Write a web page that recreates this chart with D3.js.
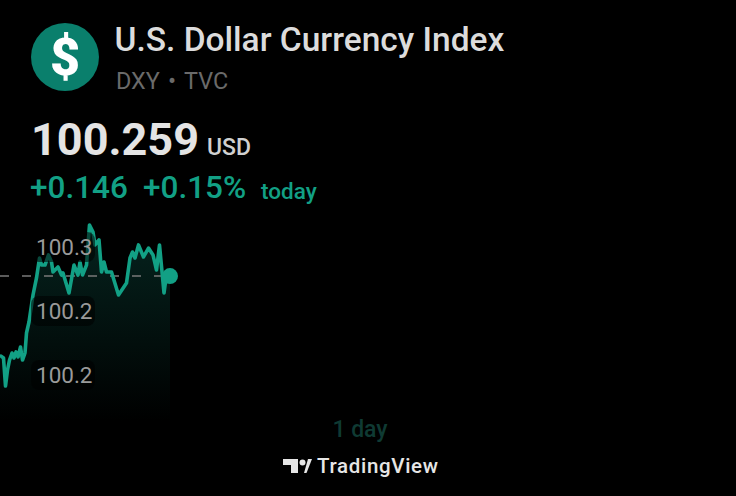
<!DOCTYPE html>
<html><head><meta charset="utf-8">
<script src="https://cdn.jsdelivr.net/npm/d3@7"></script>
<style>html,body{margin:0;background:#000}svg{display:block}text{font-family:Roboto,sans-serif}</style>
</head><body><script>
const minutes=[0,2,7,11,15,19,24,28,32,36,41,45,50,53,58,66,73,79,83,90,97,103,106,116,123,126,138,148,156,160,165,173,179,186,190,198,203,208,213,223,237,253,260,265,270,277,287,297,306,313,319,328,332,340];
const prices=[100.2141,100.2148,100.2133,100.1914,100.2039,100.2117,100.2172,100.2133,100.2180,100.2141,100.2219,100.2117,100.2172,100.2328,100.2414,100.2625,100.2758,100.2914,100.2859,100.2859,100.2938,100.2883,100.2805,100.2844,100.2781,100.2797,100.2641,100.2859,100.2781,100.2883,100.2781,100.2859,100.3172,100.3117,100.3016,100.3055,100.2805,100.2883,100.2805,100.2805,100.2625,100.2719,100.2914,100.2961,100.2914,100.3016,100.2922,100.2992,100.2938,100.2820,100.3016,100.2641,100.2758,100.2773];
const tickValues=[100.3,100.25,100.2];
const tickLabels=["100.3","100.2","100.2"];
const refPrice=100.2773;
const sessionMinutes=1472;

const W=736,H=496;
const svg=d3.select("body").append("svg").attr("width",W).attr("height",H);
const x=d3.scaleLinear().domain([0,sessionMinutes]).range([0,W]);
const y=d3.scaleLinear().domain([100.3,100.2]).range([247,375]);
const base=421;
const pts=minutes.map((m,i)=>[m,prices[i]]);

const grad=svg.append("defs").append("linearGradient").attr("id","g").attr("gradientUnits","userSpaceOnUse").attr("x1",0).attr("x2",0).attr("y1",225).attr("y2",base);
grad.append("stop").attr("offset",0).attr("stop-color","#05241f");
grad.append("stop").attr("offset",1).attr("stop-color","#000");

svg.append("path").datum(pts).attr("fill","url(#g)")
 .attr("d",d3.area().x(d=>x(d[0])).y0(base).y1(d=>y(d[1])));
svg.append("line").attr("x1",0).attr("x2",x(d3.max(minutes))).attr("y1",y(refPrice)).attr("y2",y(refPrice))
 .attr("stroke","#7a7a7a").attr("stroke-width",1.5).attr("stroke-dasharray","9 13");
svg.append("path").datum(pts).attr("fill","none").attr("stroke","#12a085").attr("stroke-width",3.6)
 .attr("stroke-linejoin","round").attr("d",d3.line().x(d=>x(d[0])).y(d=>y(d[1])));
const last=pts[pts.length-1];
svg.append("circle").attr("cx",x(last[0])).attr("cy",y(last[1])).attr("r",8).attr("fill","#12a085");

const tick=svg.selectAll("g.t").data(tickValues).join("g").attr("class","t")
 .attr("transform",d=>`translate(0,${y(d)})`);
tick.append("rect").attr("x",31).attr("y",-15).attr("width",64).attr("height",30).attr("rx",8).attr("fill","#000").attr("fill-opacity",.55);
tick.append("text").attr("x",36).attr("y",8).attr("font-size",22.5).attr("fill","#9a9a9a").text((d,i)=>tickLabels[i]);

svg.append("circle").attr("cx",65).attr("cy",57).attr("r",34).attr("fill","#0a7f6c");
svg.append("text").attr("x",65).attr("y",75).attr("text-anchor","middle").attr("font-size",52).attr("font-weight",900).attr("fill","#fff").text("$");
svg.append("text").attr("x",114.5).attr("y",51).attr("font-size",33.5).attr("font-weight",500).attr("fill","#dcdcdc").text("U.S. Dollar Currency Index");
svg.append("text").attr("x",116).attr("y",89).attr("font-size",23.4).attr("fill","#6a6a6a").text("DXY");
svg.append("text").attr("x",168).attr("y",89).attr("font-size",24).attr("fill","#6a6a6a").text("•");
svg.append("text").attr("x",184).attr("y",89).attr("font-size",23.4).attr("fill","#6a6a6a").text("TVC");
svg.append("text").attr("x",31).attr("y",155).attr("font-size",45).attr("font-weight",700).attr("fill","#e4e4e4").text("100.259");
svg.append("text").attr("x",207).attr("y",155).attr("font-size",23).attr("font-weight",500).attr("fill","#d0d0d0").text("USD");
svg.append("text").attr("x",30).attr("y",198).attr("font-size",31.5).attr("font-weight",500).attr("fill","#12a085").text("+0.146");
svg.append("text").attr("x",143).attr("y",198).attr("font-size",31.5).attr("font-weight",500).attr("fill","#12a085").text("+0.15%");
svg.append("text").attr("x",261).attr("y",199).attr("font-size",22.5).attr("font-weight",500).attr("fill","#12a085").text("today");
svg.append("text").attr("x",360).attr("y",437).attr("text-anchor","middle").attr("font-size",23).attr("font-weight",500).attr("fill","#0f3a33").text("1 day");

const logo=svg.append("g").attr("fill","#e6e6e6");
logo.append("path").attr("d","M283 459H298V473H291V465H283Z");
logo.append("circle").attr("cx",302.5).attr("cy",462.5).attr("r",3);
logo.append("path").attr("d","M304 473L308 459H312L306.5 473Z");
svg.append("text").attr("x",317).attr("y",473).attr("font-family","Inter").attr("font-size",20.5).attr("font-weight",500).attr("fill","#e6e6e6").attr("textLength",121).text("TradingView");
</script></body></html>
